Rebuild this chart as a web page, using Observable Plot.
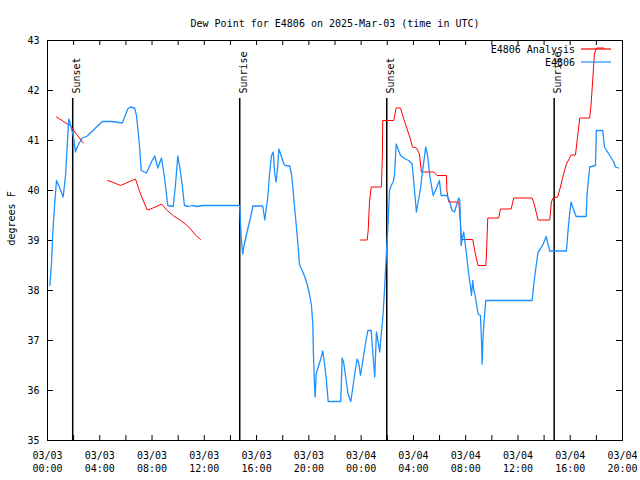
<!DOCTYPE html>
<html><head><meta charset="utf-8">
<script src="https://cdn.jsdelivr.net/npm/d3@7"></script>
<script src="https://cdn.jsdelivr.net/npm/@observablehq/plot@0.6"></script>
<style>body{margin:0;background:#fff;}</style>
</head><body><div id="chart"></div>
<script>
const title = "Dew Point for E4806 on 2025-Mar-03 (time in UTC)";
const yLabel = "degrees F";
const startTime = "2025-03-03T00:00:00Z";
const endTime = "2025-03-04T20:00:00Z";
const yDomain = [35, 43];
const yTicks = [35, 36, 37, 38, 39, 40, 41, 42, 43];
const legendLabels = ["E4806 Analysis", "E4806"];
const seriesColors = ["#ff0000", "#1e90ff"];

// hours since 2025-03-03 00:00 UTC
const sunEventHours = [1.93, 14.71, 25.96, 38.77];
const sunEventLabels = ["Sunset", "Sunrise", "Sunset", "Sunrise"];

const stationHours = [0.18,0.31,0.41,0.54,0.69,0.86,1.20,1.38,1.51,1.63,1.71,1.84,1.97,2.14,2.27,2.65,3.04,4.19,4.95,5.72,6.14,6.35,6.66,6.81,7.04,7.17,7.57,8.01,8.21,8.44,8.72,8.95,9.20,9.62,9.79,9.97,10.12,10.31,10.48,10.81,11.07,11.45,11.84,14.71,14.77,14.84,14.94,15.02,15.15,15.36,15.53,15.71,16.47,16.63,16.73,16.86,16.99,17.14,17.27,17.39,17.50,17.62,17.70,17.88,18.08,18.21,18.54,18.67,18.77,18.92,19.05,19.18,19.28,19.49,19.69,19.87,20.05,20.20,20.30,20.35,20.43,20.48,20.56,20.71,20.91,21.06,21.14,21.32,21.48,22.44,22.55,22.67,22.80,23.00,23.21,23.36,23.51,23.69,23.82,23.95,24.15,24.33,24.51,24.77,24.89,25.04,25.17,25.30,25.42,25.53,25.61,25.68,25.78,25.91,25.99,26.07,26.17,26.30,26.45,26.55,26.68,26.80,27.01,27.39,27.64,27.90,28.03,28.16,28.23,28.36,28.54,28.67,28.79,28.94,29.09,29.25,29.51,29.74,29.99,30.12,30.58,30.78,30.96,31.14,31.29,31.47,31.55,31.65,31.75,31.85,31.93,32.06,32.23,32.37,32.44,32.54,32.62,32.70,32.83,32.96,33.13,33.21,33.26,33.32,33.39,33.54,37.08,37.16,37.28,37.41,37.54,37.72,37.93,38.16,38.43,39.71,39.81,39.96,40.07,40.17,40.45,41.22,41.29,41.49,41.93,42.00,42.49,42.62,42.95,43.33,43.46,43.71];
const stationDewpoint = [38.1,38.57,39.17,39.7,40.2,40.1,39.87,40.3,40.9,41.43,41.37,41.23,41.1,40.77,40.87,41.05,41.09,41.38,41.38,41.35,41.63,41.67,41.65,41.5,40.9,40.4,40.35,40.6,40.69,40.45,40.65,40.27,39.7,39.68,40.1,40.69,40.47,40.1,39.7,39.68,39.7,39.68,39.7,39.7,39.33,39.0,38.73,38.87,39.03,39.27,39.45,39.69,39.69,39.41,39.63,39.87,40.33,40.7,40.77,40.33,40.17,40.5,40.83,40.7,40.53,40.5,40.49,40.33,40.07,39.63,39.27,38.87,38.52,38.4,38.27,38.13,37.92,37.7,37.33,36.73,36.13,35.87,36.33,36.47,36.63,36.79,36.65,36.27,35.78,35.78,36.65,36.55,36.3,35.93,35.78,36.05,36.33,36.63,36.55,36.3,36.63,36.93,37.2,37.2,36.77,36.27,37.17,36.97,36.77,37.1,37.3,37.53,37.97,38.63,39.0,39.4,40.0,40.1,40.17,40.3,40.93,40.85,40.7,40.63,40.6,40.53,40.17,39.77,39.57,39.77,40.03,40.33,40.57,40.87,40.7,40.3,39.9,40.03,40.2,39.9,39.9,39.77,39.6,39.57,39.7,39.85,39.8,38.9,39.05,39.17,39.0,38.73,38.33,38.07,37.9,38.2,38.0,37.93,37.73,37.52,37.5,37.0,36.53,37.0,37.33,37.8,37.8,38.0,38.27,38.53,38.77,38.83,38.93,39.08,38.79,38.79,39.13,39.55,39.77,39.68,39.48,39.48,39.93,40.47,40.5,41.2,41.2,40.87,40.73,40.57,40.47,40.45];

const analysisHours = [0.69,1.12,1.51,1.76,2.01,2.39,2.73,3.6,4.61,4.95,5.59,6.73,7.12,7.63,7.88,8.59,8.72,9.16,9.66,10.18,10.56,10.94,11.32,11.71,18.0,23.95,24.46,24.54,24.64,24.77,25.55,25.63,25.65,26.50,26.68,27.01,27.26,27.52,27.77,27.93,28.23,28.46,28.61,29.56,29.82,30.53,30.56,30.70,31.47,31.60,31.67,32.54,32.69,32.88,32.95,33.54,33.59,33.69,34.53,34.66,35.48,35.68,37.08,37.22,37.54,38.43,38.56,38.69,39.04,39.25,39.46,39.71,40.07,40.40,40.53,40.73,41.49,41.60,41.75,41.85,42.00,42.56];
const analysisDewpoint = [41.47,41.4,41.33,41.3,41.2,41.07,40.95,null,40.2,40.17,40.1,40.23,39.93,39.61,39.63,39.71,39.73,39.6,39.49,39.4,39.33,39.23,39.11,39.02,null,39.01,39.01,39.2,39.77,40.07,40.07,40.73,41.4,41.4,41.65,41.65,41.43,41.23,41.03,40.87,40.85,40.73,40.37,40.37,40.3,40.3,40.0,39.77,39.77,39.37,39.02,39.02,38.8,38.57,38.5,38.5,38.73,39.45,39.45,39.63,39.63,39.85,39.85,39.75,39.41,39.41,39.77,39.85,39.87,40.07,40.3,40.53,40.71,40.71,41.0,41.45,41.45,41.73,42.33,42.73,42.85,42.85];

const t0 = new Date(startTime);
const tEnd = new Date(endTime);
const toDate = h => new Date(t0.getTime() + h * 3600e3);

const station = stationHours.map((h, i) => ({time: toDate(h), value: stationDewpoint[i]}));
const analysis = analysisHours.map((h, i) => ({time: toDate(h), value: analysisDewpoint[i] == null ? NaN : analysisDewpoint[i]}));
const sunEvents = sunEventHours.map((h, i) => ({time: toDate(h), label: sunEventLabels[i]}));

const minorTicks = d3.utcHour.every(2).range(t0, new Date(+tEnd + 1));
const labelTicks = d3.utcHour.every(4).range(t0, new Date(+tEnd + 1));
const fmtDay = d3.utcFormat("%m/%d"), fmtHour = d3.utcFormat("%H:%M");

const W = 640, H = 480, mL = 47, mR = 18, mT = 40, mB = 40;
const frameW = W - mL - mR, frameH = H - mT - mB;

function legendMark(index, scales, values, dims) {
  const g = d3.create("svg:g");
  const right = dims.width - dims.marginRight;
  legendLabels.forEach((lab, i) => {
    const y = dims.marginTop + 9 + i * 13;
    g.append("text").attr("x", right - 47).attr("y", y).attr("dy", "0.35em")
      .attr("text-anchor", "end").attr("fill", "black").text(lab);
    g.append("line").attr("x1", right - 41).attr("x2", right - 11)
      .attr("y1", y).attr("y2", y).attr("stroke", seriesColors[i]).attr("stroke-width", 1.2);
  });
  return g.node();
}

const chart = Plot.plot({
  width: W, height: H,
  marginLeft: mL, marginRight: mR, marginTop: mT, marginBottom: mB,
  style: {fontFamily: "'DejaVu Sans Mono', monospace", fontSize: "10px", background: "white", color: "black"},
  x: {type: "utc", domain: [t0, tEnd], axis: null},
  y: {domain: yDomain, axis: null},
  marks: [
    Plot.ruleX(minorTicks, {x: d => d, insetTop: frameH - 5, stroke: "black"}),
    Plot.ruleX(minorTicks, {x: d => d, insetBottom: frameH - 5, stroke: "black"}),
    Plot.ruleY(yTicks, {y: d => d, insetRight: frameW - 6, stroke: "black"}),
    Plot.ruleY(yTicks, {y: d => d, insetLeft: frameW - 6, stroke: "black"}),
    Plot.ruleX(sunEvents, {x: "time", insetTop: 58, stroke: "black", strokeWidth: 1.5}),
    Plot.text(sunEvents, {x: "time", text: "label", frameAnchor: "top", dy: 53, rotate: -90, textAnchor: "start", fill: "black"}),
    Plot.line(analysis, {x: "time", y: "value", stroke: seriesColors[0], strokeWidth: 1}),
    Plot.line(station, {x: "time", y: "value", stroke: seriesColors[1], strokeWidth: 1.3}),
    Plot.frame({stroke: "black"}),
    legendMark,
    Plot.text(labelTicks, {x: d => d, frameAnchor: "bottom", dy: 9, lineAnchor: "top", lineHeight: 1.3,
      text: d => fmtDay(d) + "\n" + fmtHour(d), fill: "black"}),
    Plot.text(yTicks, {y: d => d, frameAnchor: "left", dx: -8, textAnchor: "end", fill: "black"}),
    Plot.text([yLabel], {frameAnchor: "left", dx: -36, dy: 5, rotate: -90, fill: "black"}),
    Plot.text([title], {frameAnchor: "top", dy: -21, fill: "black"})
  ]
});
document.getElementById("chart").appendChild(chart);
</script>
</body></html>
